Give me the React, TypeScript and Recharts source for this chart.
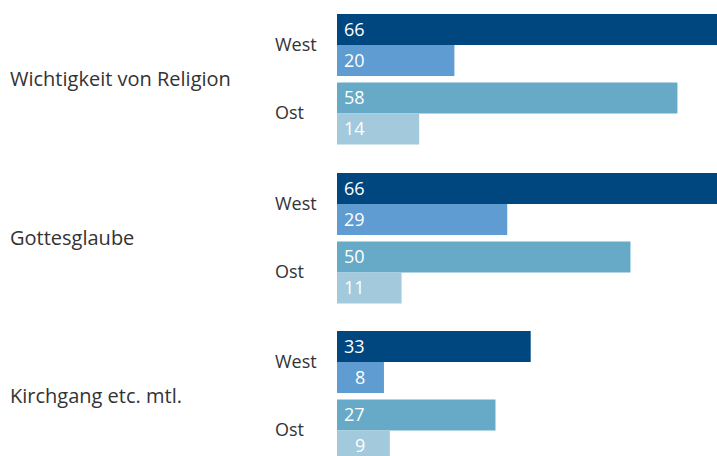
import { Bar, BarChart, Cell, Label, LabelList, XAxis, YAxis } from "recharts";

const categories = ["Wichtigkeit von Religion", "Gottesglaube", "Kirchgang etc. mtl."];
const regions = ["West", "Ost"];
const westFirst = [66, 66, 33];
const westSecond = [20, 29, 8];
const ostFirst = [58, 50, 27];
const ostSecond = [14, 11, 9];

const FIRST_COLORS = ["#00467f", "#67aac8"];
const SECOND_COLORS = ["#5e9cd1", "#a2c9dc"];
const FONT = "'Open Sans', sans-serif";
const TEXT = "#333333";
const GROUP_TOPS = [0, 159, 317];

const ValueLabel = (props: any) => {
  const { x, y, height, value } = props;
  const dx = value < 10 ? 18 : 7;
  return (
    <text
      x={x + dx}
      y={y + height / 2}
      dy="0.36em"
      fill="#ffffff"
      fontFamily={FONT}
      fontSize={18}
    >
      {value}
    </text>
  );
};

const RegionTick = (props: any) => {
  const { y, payload } = props;
  return (
    <text x={275} y={y} dy="0.36em" fill={TEXT} fontFamily={FONT} fontSize={18}>
      {payload.value}
    </text>
  );
};

function Group({ index }: { index: number }) {
  const data = [
    { region: regions[0], a: westFirst[index], b: westSecond[index] },
    { region: regions[1], a: ostFirst[index], b: ostSecond[index] },
  ];
  return (
    <BarChart
      width={717}
      height={159}
      data={data}
      layout="vertical"
      margin={{ top: 10.25, right: 0, bottom: 11.75, left: 0 }}
      barCategoryGap={3.75}
      barGap={0}
    >
      <XAxis type="number" domain={[0, 64.74]} allowDataOverflow hide />
      <YAxis
        type="category"
        dataKey="region"
        width={337}
        axisLine={false}
        tickLine={false}
        tick={<RegionTick />}
      >
        <Label
          content={(p: any) => {
            const vb = p.viewBox;
            return (
              <text
                x={10}
                y={vb.y + vb.height / 2}
                dy="0.36em"
                fill={TEXT}
                fontFamily={FONT}
                fontSize={20}
              >
                {categories[index]}
              </text>
            );
          }}
        />
      </YAxis>
      <Bar dataKey="a" isAnimationActive={false}>
        {data.map((d, i) => (
          <Cell key={d.region} fill={FIRST_COLORS[i]} />
        ))}
        <LabelList dataKey="a" content={<ValueLabel />} />
      </Bar>
      <Bar dataKey="b" isAnimationActive={false}>
        {data.map((d, i) => (
          <Cell key={d.region} fill={SECOND_COLORS[i]} />
        ))}
        <LabelList dataKey="b" content={<ValueLabel />} />
      </Bar>
    </BarChart>
  );
}

export default function App() {
  return (
    <div
      style={{
        position: "fixed",
        left: 0,
        top: 0,
        width: 717,
        height: 456,
        overflow: "hidden",
        background: "#ffffff",
      }}
    >
      {categories.map((c, i) => (
        <div key={c} style={{ position: "absolute", left: 0, top: GROUP_TOPS[i] }}>
          <Group index={i} />
        </div>
      ))}
    </div>
  );
}
